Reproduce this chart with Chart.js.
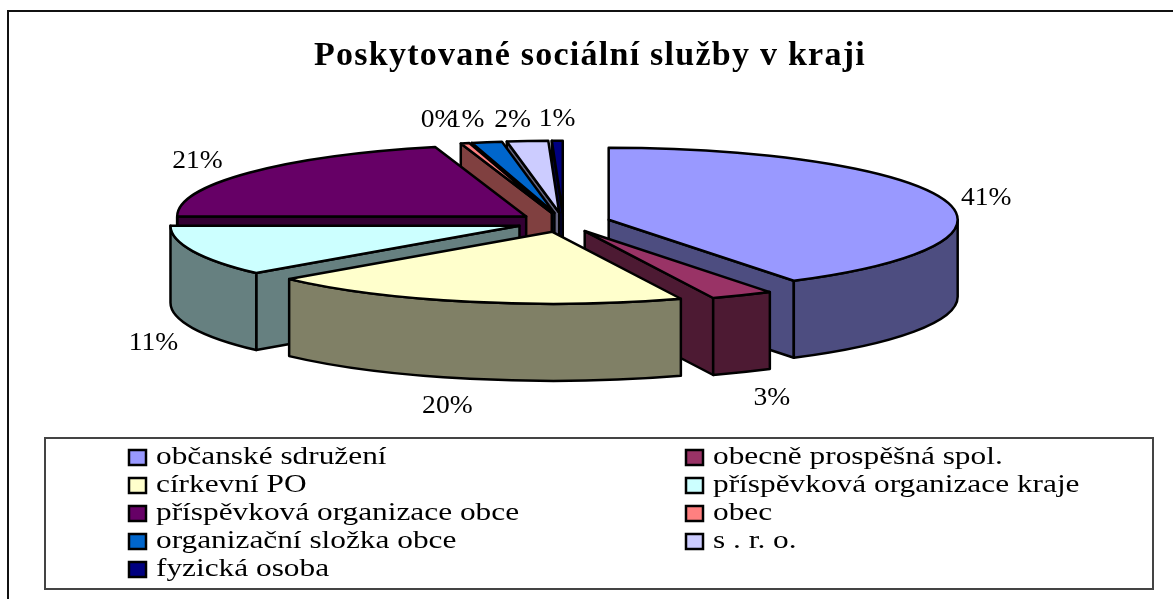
<!DOCTYPE html>
<html lang="cs">
<head>
<meta charset="utf-8">
<style>html,body{margin:0;padding:0;background:#fff}canvas{display:block}</style>
<script src="https://cdn.jsdelivr.net/npm/chart.js@4"></script>
</head>
<body>
<canvas id="c" width="1173" height="599"></canvas>
<script>
const chartTitle = 'Poskytované sociální služby v kraji';
const categories = ['občanské sdružení','obecně prospěšná spol.','církevní PO','příspěvková organizace kraje','příspěvková organizace obce','obec','organizační složka obce','s . r. o.','fyzická osoba'];
const values = [41.1, 2.9, 19.6, 11.4, 20.8, 0.4, 1.4, 1.9, 0.5];
const topColors = ['#9999FF','#993366','#FFFFCC','#CCFFFF','#660066','#FF8080','#0066CC','#CCCCFF','#000080'];
const sideColors = ['#4D4D80','#4D1A33','#808066','#668080','#330033','#804040','#003366','#666680','#000040'];
const labelNudges = [[4,-1],[11,17],[-15,18],[-5,11],[-23,-8],[-18,-17],[-15,-16],[-13,-15],[-1,-15]];

const RADIUS = 349, SQUASH = 0.2063, DEPTH = 77, EXPLODE = 47, SHIFT_X = -26.5;
const SERIF = '"Liberation Serif","Times New Roman",serif';

function stretched(ctx, text, x, y, size, sx, align) {
  ctx.save();
  ctx.font = size + 'px ' + SERIF;
  ctx.fillStyle = '#000';
  ctx.textBaseline = 'middle';
  ctx.textAlign = align;
  ctx.translate(x, y);
  ctx.scale(sx, 1);
  ctx.fillText(text, 0, 0);
  ctx.restore();
}

const pie3d = {
  id: 'pie3d',
  beforeDraw(chart) {
    const ctx = chart.ctx;
    ctx.save();
    ctx.fillStyle = '#fff';
    ctx.fillRect(0, 0, chart.width, chart.height);
    ctx.strokeStyle = '#111';
    ctx.lineWidth = 2;
    ctx.beginPath();
    ctx.moveTo(8, chart.height);
    ctx.lineTo(8, 11);
    ctx.lineTo(chart.width, 11);
    ctx.stroke();
    ctx.restore();
    ctx.letterSpacing = '1.25px';
  },
  beforeDatasetDraw(chart) {
    const ctx = chart.ctx;
    ctx.letterSpacing = '0px';
    const arcs = chart.getDatasetMeta(0).data;
    const order = arcs.map((a, i) => i).sort((p, q) => {
      const mp = (arcs[p].startAngle + arcs[p].endAngle) / 2;
      const mq = (arcs[q].startAngle + arcs[q].endAngle) / 2;
      return Math.sin(mp) - Math.sin(mq);
    });
    ctx.save();
    ctx.lineWidth = 2.5;
    ctx.lineJoin = 'round';
    ctx.strokeStyle = '#000';
    order.forEach(i => {
      const arc = arcs[i];
      const R = arc.outerRadius, ry = R * SQUASH;
      const s = arc.startAngle, e = arc.endAngle, m = (s + e) / 2;
      const ax = arc.x + SHIFT_X + EXPLODE * Math.cos(m);
      const ay = arc.y + EXPLODE * SQUASH * Math.sin(m);
      const paint = () => { ctx.fill(); ctx.stroke(); };
      ctx.fillStyle = sideColors[i];
      const wall = a => {
        const px = ax + R * Math.cos(a), py = ay + ry * Math.sin(a);
        ctx.beginPath();
        ctx.moveTo(ax, ay); ctx.lineTo(px, py);
        ctx.lineTo(px, py + DEPTH); ctx.lineTo(ax, ay + DEPTH);
        ctx.closePath(); paint();
      };
      if (Math.cos(s) < -1e-6) wall(s);
      if (Math.cos(e) > 1e-6) wall(e);
      const c0 = Math.max(s, 0), c1 = Math.min(e, Math.PI);
      if (c1 > c0) {
        ctx.beginPath();
        ctx.ellipse(ax, ay, R, ry, 0, c0, c1);
        ctx.ellipse(ax, ay + DEPTH, R, ry, 0, c1, c0, true);
        ctx.closePath(); paint();
      }
      // top face is drawn by the library's arc element, squashed
      ctx.save();
      ctx.translate(ax, ay);
      ctx.scale(1, SQUASH);
      ctx.translate(-arc.x, -arc.y);
      arc.draw(ctx);
      ctx.restore();
      ctx.beginPath();
      ctx.moveTo(ax, ay);
      ctx.ellipse(ax, ay, R, ry, 0, s, e);
      ctx.closePath();
      ctx.stroke();
    });
    ctx.restore();
    return false;
  },
  afterDraw(chart) {
    const ctx = chart.ctx;
    const arcs = chart.getDatasetMeta(0).data;
    arcs.forEach((arc, i) => {
      const m = (arc.startAngle + arc.endAngle) / 2;
      const L = arc.outerRadius + 85;
      const sin = Math.sin(m);
      const x = arc.x - 25 + Math.cos(m) * L + labelNudges[i][0];
      const y = arc.y + sin * L * SQUASH + (sin > 0 ? DEPTH : 0) + labelNudges[i][1] + 1.5;
      stretched(ctx, Math.round(values[i]) + '%', x, y, 26, 1.06, 'center');
    });
    // legend box
    ctx.save();
    ctx.strokeStyle = '#444';
    ctx.lineWidth = 2;
    ctx.strokeRect(45, 438, 1108, 151);
    categories.forEach((name, i) => {
      const col = i % 2, row = Math.floor(i / 2);
      const mx = col ? 686 : 129, my = 457 + row * 28;
      ctx.fillStyle = topColors[i];
      ctx.strokeStyle = '#000';
      ctx.lineWidth = 2.5;
      ctx.fillRect(mx, my - 7, 17, 15);
      ctx.strokeRect(mx, my - 7, 17, 15);
      stretched(ctx, name, mx + 27, my, 26, 1.205, 'left');
    });
    ctx.restore();
  }
};

new Chart(document.getElementById('c'), {
  type: 'pie',
  data: {
    labels: categories,
    datasets: [{ data: values, backgroundColor: topColors, borderWidth: 0, hoverOffset: 0 }]
  },
  options: {
    responsive: false,
    animation: false,
    radius: RADIUS,
    layout: { padding: { left: 7, right: 0, top: 0, bottom: 231 } },
    events: [],
    plugins: {
      legend: { display: false },
      tooltip: { enabled: false },
      title: {
        display: true,
        text: chartTitle,
        color: '#000',
        font: { family: SERIF, size: 34, weight: 'bold', lineHeight: 1.2 },
        padding: { top: 36, bottom: 0 }
      }
    }
  },
  plugins: [pie3d]
});
</script>
</body>
</html>
